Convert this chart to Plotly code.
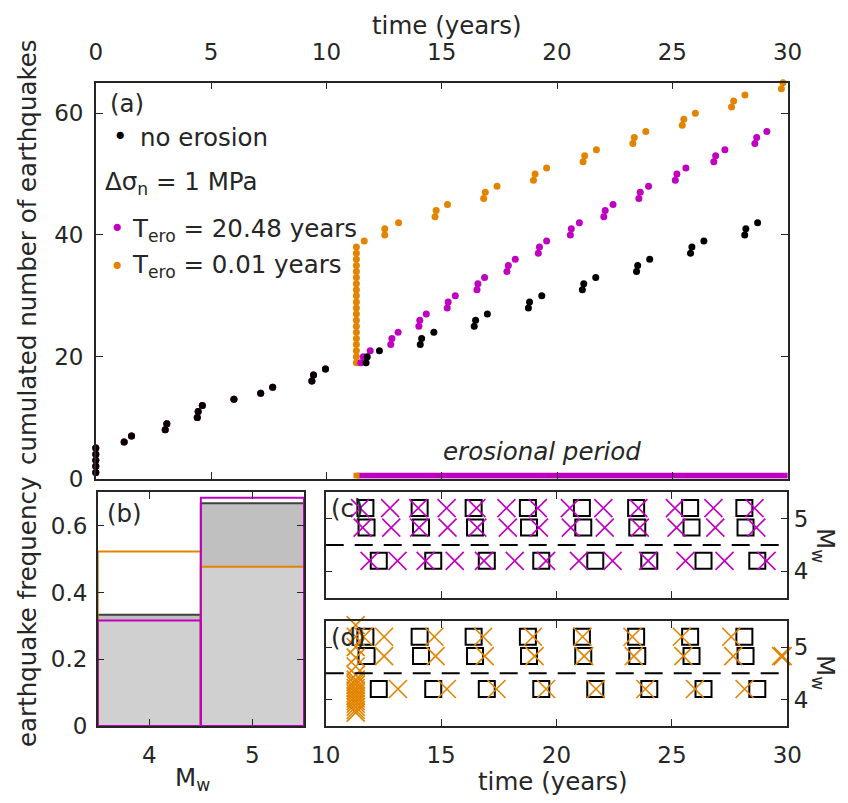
import numpy as np
import plotly.graph_objects as go

W, H = 848, 803
OFF = 8                      # default page body margin
FW, FH = W - 2 * OFF, H - 2 * OFF

# ---------------- data ----------------
# event times (years) shared by all runs before erosion starts
pre_erosion_t = [0, 0, 0, 0, 0, 1.23, 1.55, 3.01, 3.08, 4.40, 4.44, 4.62,
                 5.99, 7.15, 7.67, 9.37, 9.44, 9.96]

# no erosion: events after t = 10
noero_post_t = [11.72, 11.77, 12.30, 14.07, 14.13, 14.66, 16.41, 16.47, 16.98,
                18.76, 18.81, 19.34, 21.10, 21.16, 21.68, 23.45, 23.50, 24.02,
                25.79, 25.85, 26.37, 28.14, 28.19, 28.70]
noero_post_mw = [5.2, 4.83, 4.2, 5.2, 4.83, 4.2, 5.2, 4.83, 4.2,
                 5.2, 4.83, 4.2, 5.2, 4.83, 4.2, 5.2, 4.83, 4.2,
                 5.2, 4.83, 4.2, 5.2, 4.83, 4.2]

# T_ero = 20.48 years
tero2048_post_t = [11.49, 11.60, 11.90, 12.79, 12.84, 13.11, 14.01, 14.05, 14.33,
                   15.24, 15.28, 15.59, 16.53, 16.57, 16.86, 17.83, 17.89, 18.19,
                   19.19, 19.24, 19.55, 20.58, 20.62, 20.97, 22.03, 22.09, 22.43,
                   23.55, 23.61, 23.97, 25.13, 25.20, 25.59, 26.80, 26.88, 27.28,
                   28.58, 28.66, 29.10]
tero2048_post_mw = [5.2, 4.83, 4.2, 5.2, 4.83, 4.2, 5.2, 4.83, 4.2,
                    5.2, 4.83, 4.2, 5.2, 4.83, 4.2, 5.2, 4.83, 4.2,
                    5.2, 4.83, 4.2, 5.2, 4.83, 4.2, 5.2, 4.83, 4.2,
                    5.2, 4.83, 4.2, 5.2, 4.83, 4.2, 5.2, 4.83, 4.2,
                    5.2, 4.83, 4.2]

# T_ero = 0.01 years
tero001_post_t = [11.3, 11.3, 11.3, 11.3, 11.3, 11.3, 11.3, 11.3, 11.3, 11.3,
                  11.3, 11.3, 11.3, 11.3, 11.3, 11.3, 11.3, 11.3, 11.3, 11.3,
                  11.64, 12.53, 12.53, 13.13, 14.71, 14.76, 15.25, 16.82, 16.89, 17.40,
                  18.98, 19.05, 19.55, 21.13, 21.20, 21.71, 23.29, 23.35, 23.85,
                  25.43, 25.50, 26.00, 27.57, 27.66, 28.15, 29.73, 29.80]
tero001_post_mw = [5.65, 5.42, 5.2, 5.0, 4.8, 4.63, 4.47, 4.38, 4.33, 4.28,
                   4.22, 4.17, 4.12, 4.07, 4.02, 3.97, 3.92, 3.86, 3.8, 3.75,
                   5.2, 5.2, 4.83, 4.2, 5.2, 4.83, 4.2, 5.2, 4.83, 4.2,
                   5.2, 4.83, 4.2, 5.2, 4.83, 4.2, 5.2, 4.83, 4.2,
                   5.2, 4.83, 4.2, 5.2, 4.83, 4.2, 4.83, 4.83]

erosion_start = 11.3
t_ero_2048 = 20.48
t_ero_001 = 0.01

mw_bins = [4, 5]
freq_noero = [0.333, 0.667]
freq_2048 = [0.316, 0.684]
freq_001 = [0.523, 0.477]
mw_threshold = 4.5

# ---------------- style ----------------
FONT = "DejaVu Sans"
TXT = "#262626"
C_BLK = "#000000"
C_MAG = "#c000c0"
C_ORA = "#e38400"
TICK = 23
LAB = 24.5


def PX(x):
    return (x - OFF) / FW


def PY(y):
    return 1 - (y - OFF) / FH


fig = go.Figure()

noero_t = pre_erosion_t + noero_post_t
m_t = pre_erosion_t + tero2048_post_t
o_t = pre_erosion_t + tero001_post_t

# ---- panel (a) ----
for tt, col in [(o_t, C_ORA), (m_t, C_MAG), (noero_t, C_BLK)]:
    fig.add_trace(go.Scatter(x=tt, y=np.arange(1, len(tt) + 1), mode="markers",
                             marker=dict(size=7, color=col), cliponaxis=False,
                             xaxis="x", yaxis="y", showlegend=False))

bar_y = 0.45
fig.add_trace(go.Scatter(x=[erosion_start, erosion_start + t_ero_2048], y=[bar_y, bar_y],
                         mode="lines", line=dict(color=C_MAG, width=6),
                         xaxis="x", yaxis="y", showlegend=False))
fig.add_trace(go.Scatter(x=[erosion_start + t_ero_001 / 2], y=[bar_y], mode="markers",
                         marker=dict(symbol="square", size=6, color=C_ORA),
                         xaxis="x", yaxis="y", showlegend=False))

# ---- panel (b) ----
freq_min = np.minimum.reduce([freq_noero, freq_2048, freq_001])
fig.add_trace(go.Bar(x=mw_bins, y=freq_noero, width=1, marker=dict(color="#c0c0c0", line=dict(width=0)),
                     xaxis="x2", yaxis="y2", showlegend=False))
fig.add_trace(go.Bar(x=mw_bins, y=freq_min, width=1, marker=dict(color="#d0d0d0", line=dict(width=0)),
                     xaxis="x2", yaxis="y2", showlegend=False))
fig.add_trace(go.Bar(x=mw_bins, y=freq_noero, width=1,
                     marker=dict(color="rgba(0,0,0,0)", line=dict(color="#404040", width=2)),
                     xaxis="x2", yaxis="y2", showlegend=False))
fig.add_trace(go.Bar(x=mw_bins, y=freq_001, width=1,
                     marker=dict(color="rgba(0,0,0,0)", line=dict(color=C_ORA, width=2)),
                     xaxis="x2", yaxis="y2", showlegend=False))
fig.add_trace(go.Bar(x=mw_bins, y=freq_2048, width=1,
                     marker=dict(color="rgba(0,0,0,0)", line=dict(color=C_MAG, width=2)),
                     xaxis="x2", yaxis="y2", showlegend=False))

# ---- panels (c) and (d) ----
SQ = dict(symbol="square-open", size=16, color=C_BLK, line=dict(width=2))
fig.add_trace(go.Scatter(x=noero_post_t, y=noero_post_mw, mode="markers", marker=SQ,
                         cliponaxis=False, xaxis="x3", yaxis="y3", showlegend=False))
fig.add_trace(go.Scatter(x=tero2048_post_t, y=tero2048_post_mw, mode="markers",
                         marker=dict(symbol="x-thin-open", size=18, color=C_MAG,
                                     line=dict(width=1.6, color=C_MAG)),
                         cliponaxis=False, xaxis="x3", yaxis="y3", showlegend=False))
fig.add_trace(go.Scatter(x=noero_post_t, y=noero_post_mw, mode="markers", marker=SQ,
                         cliponaxis=False, xaxis="x4", yaxis="y4", showlegend=False))
fig.add_trace(go.Scatter(x=tero001_post_t, y=tero001_post_mw, mode="markers",
                         marker=dict(symbol="x-thin-open", size=18, color=C_ORA,
                                     line=dict(width=1.6, color=C_ORA)),
                         cliponaxis=False, xaxis="x4", yaxis="y4", showlegend=False))

for ax in ["3", "4"]:
    fig.add_shape(type="line", xref=f"x{ax} domain", x0=0, x1=1, yref=f"y{ax}",
                  y0=mw_threshold, y1=mw_threshold,
                  line=dict(color="#000000", width=2, dash="18px,11px"))

# ---------------- axes ----------------
def axstyle(**kw):
    d = dict(showline=True, linecolor=TXT, linewidth=1.5, ticks="inside", ticklen=7,
             tickcolor=TXT, tickwidth=1.2, mirror="ticks", showgrid=False, zeroline=False,
             automargin=False,
             tickfont=dict(family=FONT, size=TICK, color=TXT))
    d.update(kw)
    return d


def dx(a, b):
    return [PX(a), PX(b)]


def dy(top, bottom):
    return [PY(bottom), PY(top)]


xa = (95.8, 787.6)
ya = (82.7, 478.5)
xb = (97.7, 304.0)
yb = (492.3, 726.0)
xc = (325.7, 787.3)
yc = (492.3, 597.7)
yd = (621.0, 725.7)

fig.update_layout(
    width=FW, height=FH, margin=dict(l=0, r=0, t=0, b=0, autoexpand=False),
    paper_bgcolor="white", plot_bgcolor="white", barmode="overlay",
    font=dict(family=FONT, color=TXT),
    xaxis=axstyle(domain=dx(*xa), anchor="y", range=[0, 30], side="top",
                  tickvals=[0, 5, 10, 15, 20, 25, 30], ticklabelstandoff=12),
    yaxis=axstyle(domain=dy(*ya), anchor="x", range=[0, 65],
                  tickvals=[0, 20, 40, 60], ticklabelstandoff=6),
    xaxis2=axstyle(domain=dx(*xb), anchor="y2", range=[3.5, 5.5],
                   tickvals=[4, 5], ticklabelstandoff=8),
    yaxis2=axstyle(domain=dy(*yb), anchor="x2", range=[0, 0.7],
                   tickvals=[0, 0.2, 0.4, 0.6], ticktext=["0", "0.2", "0.4", "0.6"],
                   ticklabelstandoff=4),
    xaxis3=axstyle(domain=dx(*xc), anchor="y3", range=[10, 30],
                   tickvals=[10, 15, 20, 25, 30], showticklabels=False),
    yaxis3=axstyle(domain=dy(*yc), anchor="x3", range=[3.5, 5.5],
                   tickvals=[4, 5], side="right", ticklabelstandoff=0),
    xaxis4=axstyle(domain=dx(*xc), anchor="y4", range=[10, 30],
                   tickvals=[10, 15, 20, 25, 30], ticklabelstandoff=8),
    yaxis4=axstyle(domain=dy(*yd), anchor="x4", range=[3.5, 5.5],
                   tickvals=[4, 5], side="right", ticklabelstandoff=0),
)


def ann(text, x, y, size=LAB, xanchor="center", yanchor="middle", angle=0, color=TXT):
    fig.add_annotation(text=text, x=PX(x), y=PY(y), xref="paper", yref="paper", showarrow=False,
                       xanchor=xanchor, yanchor=yanchor, textangle=angle,
                       font=dict(family=FONT, size=size, color=color))


# axis titles
ann("time (years)", 447, 8.5, yanchor="top")
ann("cumulated number of earthquakes", 27, 252, angle=-90)
ann("earthquake frequency", 27, 612, angle=-90)
ann("M<sub>w</sub>", 192, 779)
ann("time (years)", 553, 781)
ann("M<sub>w</sub>", 824, 545, angle=90)
ann("M<sub>w</sub>", 824, 672, angle=90)

# panel labels
ann("(a)", 108, 103, xanchor="left")
ann("(b)", 105, 513, xanchor="left")
ann("(c)", 329, 508, xanchor="left")
ann("(d)", 329, 637, xanchor="left")

# legend-like texts in panel (a)
ann("<span style='color:#000000'>•</span>", 120, 136, xanchor="center")
ann("no erosion", 138, 137, xanchor="left")
ann("Δσ<sub>n</sub> = 1 MPa", 103, 183, xanchor="left")
ann(f"<span style='color:{C_MAG}'>•</span>", 117, 228, xanchor="center")
ann("T<sub>ero</sub> = 20.48 years", 130, 230, xanchor="left")
ann(f"<span style='color:{C_ORA}'>•</span>", 117, 266, xanchor="center")
ann("T<sub>ero</sub> = 0.01 years", 130, 266, xanchor="left")

ann("<i>erosional period</i>", 542, 452)

fig.write_html("out.html")
